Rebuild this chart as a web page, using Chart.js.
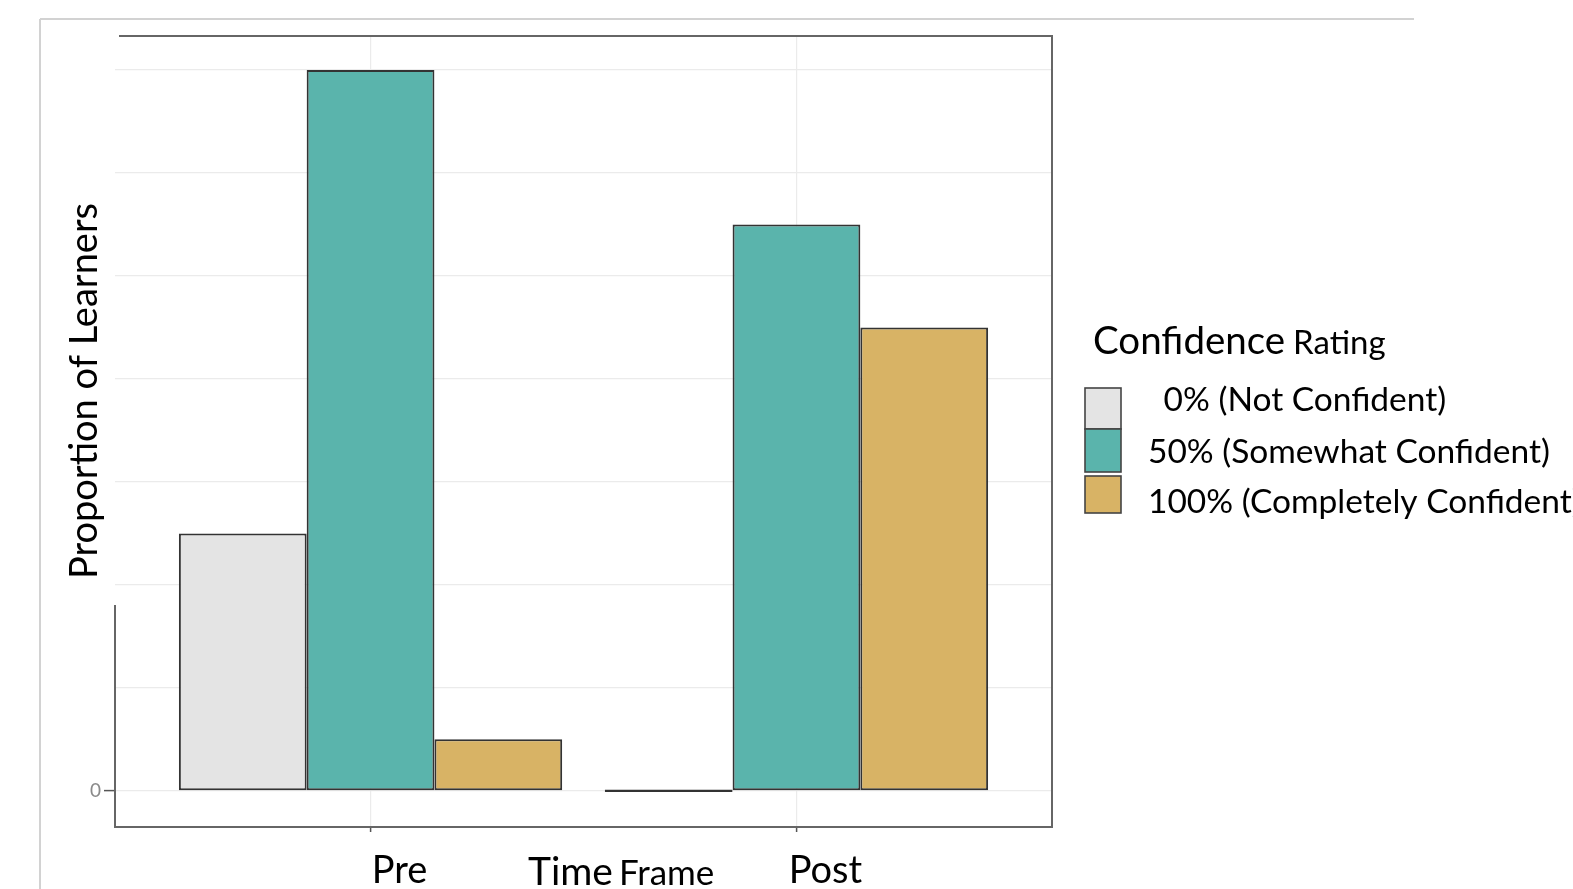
<!DOCTYPE html>
<html>
<head>
<meta charset="utf-8">
<script src="https://cdn.jsdelivr.net/npm/chart.js@4.4.1/dist/chart.umd.min.js"></script>
<style>
  html, body { margin: 0; padding: 0; background: #ffffff; }
  #wrap { position: relative; width: 1573px; height: 889px; overflow: hidden; }
  canvas { display: block; }
</style>
</head>
<body>
<div id="wrap"><canvas id="c" width="1573" height="889"></canvas></div>
<script>
// ---- data ----
const categories = ['Pre', 'Post'];
const seriesNames = [' 0% (Not Confident)', '50% (Somewhat Confident)', '100% (Completely Confident)'];
const notConfident = [0.25, 0.00];
const somewhatConfident = [0.70, 0.55];
const completelyConfident = [0.05, 0.45];
const yGridValues = [0, 0.1, 0.2, 0.3, 0.4, 0.5, 0.6, 0.7];
const yTickLabels = ['0', '', '', '', '', '', '', ''];
const xTitleParts = ['Time', 'Frame'];
const yTitle = 'Proportion of Learners';
const legendTitleParts = ['Confidence', 'Rating'];

const colors = ['#e4e4e4', '#5ab4ac', '#d8b365'];
const FONT = 'Lato';

function toPoints(arr) { return arr.map((v, i) => ({ x: i + 1, y: v })); }

const decor = {
  id: 'decor',
  afterDraw(chart) {
    const ctx = chart.ctx;
    const a = chart.chartArea;
    ctx.save();
    // outer light frame
    ctx.strokeStyle = '#d2d2d2';
    ctx.lineWidth = 2;
    ctx.beginPath();
    ctx.moveTo(40, 19); ctx.lineTo(1414, 19);
    ctx.moveTo(40, 19); ctx.lineTo(40, 889);
    ctx.stroke();
    // panel border
    ctx.strokeStyle = '#666666';
    ctx.lineWidth = 2;
    ctx.beginPath();
    ctx.moveTo(a.left + 4, a.top); ctx.lineTo(a.right, a.top);
    ctx.lineTo(a.right, a.bottom); ctx.lineTo(a.left, a.bottom);
    ctx.lineTo(a.left, a.top + 569);
    ctx.stroke();

    // y title
    ctx.fillStyle = '#000000';
    ctx.save();
    ctx.translate(97, 391);
    ctx.rotate(-Math.PI / 2);
    ctx.font = '38px ' + FONT;
    ctx.textAlign = 'center';
    ctx.textBaseline = 'alphabetic';
    ctx.fillText(yTitle, 0, 0);
    ctx.restore();

    // x title
    ctx.textAlign = 'left';
    ctx.textBaseline = 'alphabetic';
    ctx.font = '39px ' + FONT;
    ctx.fillText(xTitleParts[0], 528, 885);
    const w0 = ctx.measureText(xTitleParts[0]).width;
    ctx.font = '35px ' + FONT;
    ctx.fillText(xTitleParts[1], 528 + w0 + 6, 885);

    // legend title
    ctx.font = '38.5px ' + FONT;
    ctx.fillText(legendTitleParts[0], 1093, 354);
    const w1 = ctx.measureText(legendTitleParts[0]).width;
    ctx.font = '33px ' + FONT;
    ctx.fillText(legendTitleParts[1], 1093 + w1 + 8, 354);

    // legend keys
    const boxes = [[388, 429], [429, 472], [476, 513]];
    const labelX = [1155, 1148, 1148];
    const labelY = [411, 463, 513];
    chart.data.datasets.forEach((ds, i) => {
      const [y0, y1] = boxes[i];
      ctx.fillStyle = ds.backgroundColor;
      ctx.fillRect(1085, y0, 36, y1 - y0);
      ctx.strokeStyle = '#444444';
      ctx.lineWidth = 1.6;
      ctx.strokeRect(1085, y0, 36, y1 - y0);
      ctx.fillStyle = '#000000';
      ctx.font = '33.5px ' + FONT;
      ctx.fillText(ds.label, labelX[i], labelY[i]);
    });
    ctx.restore();
  }
};

function build() {
  new Chart(document.getElementById('c'), {
    type: 'bar',
    data: {
      datasets: [
        { label: seriesNames[0], data: toPoints(notConfident), backgroundColor: colors[0] },
        { label: seriesNames[1], data: toPoints(somewhatConfident), backgroundColor: colors[1] },
        { label: seriesNames[2], data: toPoints(completelyConfident), backgroundColor: colors[2] }
      ]
    },
    options: {
      responsive: false,
      animation: false,
      devicePixelRatio: 1,
      layout: { padding: { left: 0, right: 521, top: 36, bottom: 0 } },
      datasets: {
        bar: {
          borderColor: '#333333',
          borderWidth: 2,
          borderSkipped: false,
          categoryPercentage: 0.9,
          barPercentage: 1.0,
          minBarLength: 2.5
        }
      },
      plugins: {
        legend: { display: false },
        tooltip: { enabled: false },
        title: { display: false }
      },
      scales: {
        x: {
          type: 'linear',
          min: 0.4,
          max: 2.6,
          offset: false,
          afterBuildTicks: s => { s.ticks = categories.map((c, i) => ({ value: i + 1 })); },
          afterFit: s => { s.height = 62; },
          ticks: {
            autoSkip: false,
            maxRotation: 0,
            labelOffset: 29,
            padding: 16,
            color: '#000000',
            font: { family: FONT, size: 38 },
            callback: v => categories[Math.round(v) - 1] || ''
          },
          grid: {
            offset: false,
            color: '#ebebeb',
            lineWidth: 1.2,
            tickLength: 5,
            tickColor: '#555555',
            tickWidth: 1.5
          },
          border: { display: false }
        },
        y: {
          type: 'linear',
          min: -0.0351,
          max: 0.7331,
          afterBuildTicks: s => { s.ticks = yGridValues.map(v => ({ value: v })); },
          afterFit: s => { s.width = 115; },
          ticks: {
            autoSkip: false,
            padding: 3,
            color: '#8a8a8a',
            font: { family: FONT, size: 19 },
            callback: (v, i) => yTickLabels[i]
          },
          grid: {
            color: '#ebebeb',
            lineWidth: 1.2,
            tickLength: 11,
            tickColor: ctx => (ctx.tick && ctx.tick.value === 0) ? '#555555' : 'rgba(0,0,0,0)',
            tickWidth: 1.5
          },
          border: { display: false }
        }
      }
    },
    plugins: [decor]
  });
}

const loads = [19, 33, 35, 38, 39].map(s => document.fonts.load(s + 'px ' + FONT));
Promise.all(loads).then(build, build);
</script>
</body>
</html>
